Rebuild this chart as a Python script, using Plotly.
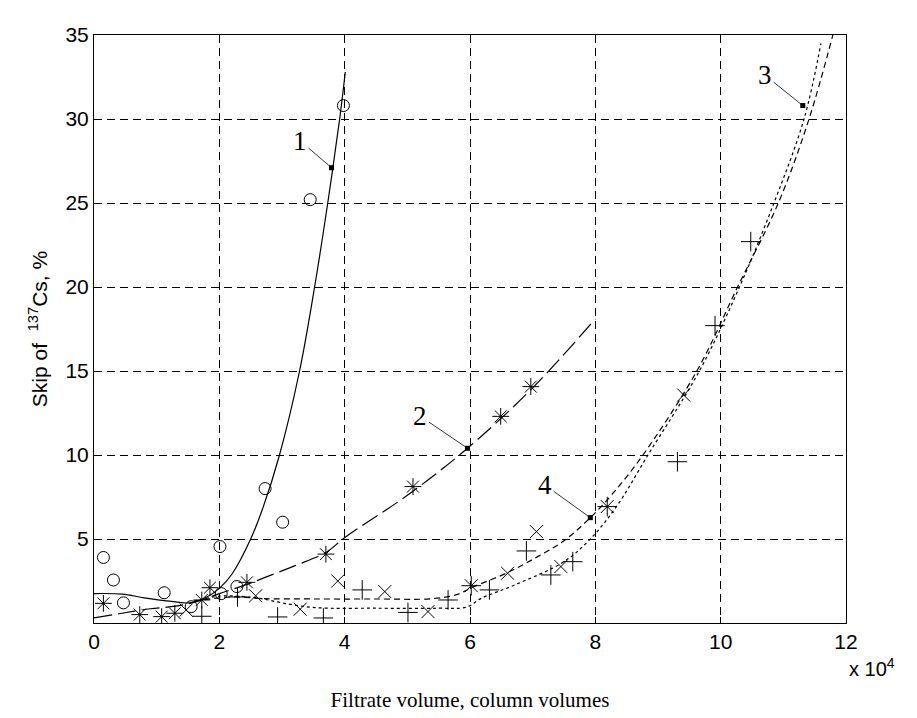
import plotly.graph_objects as go

# ---- measured points (x in 10^4 column volumes, y in %) ----
s1_x = [0.15, 0.31, 0.47, 1.12, 1.55, 2.01, 2.03, 2.28, 2.73, 3.01, 3.45, 3.98]
s1_y = [3.9, 2.56, 1.2, 1.8, 0.97, 4.55, 1.75, 2.17, 8.0, 6.0, 25.2, 30.8]

s2_x = [0.15, 0.73, 1.08, 1.29, 1.72, 1.85, 2.44, 3.7, 5.09, 6.49, 6.97]
s2_y = [1.17, 0.5, 0.38, 0.58, 1.37, 2.1, 2.42, 4.1, 8.12, 12.3, 14.07]

s3_x = [1.72, 2.29, 2.93, 3.66, 4.28, 5.01, 5.65, 6.02, 6.31, 6.9, 7.29, 7.64, 8.19, 9.31, 9.91, 10.48]
s3_y = [0.4, 1.55, 0.36, 0.3, 1.97, 0.63, 1.37, 2.22, 1.97, 4.29, 2.86, 3.65, 6.93, 9.6, 17.7, 22.7]

s4_x = [1.47, 2.58, 3.29, 3.89, 4.64, 5.33, 6.02, 6.6, 7.06, 7.45, 8.19, 9.41]
s4_y = [0.77, 1.62, 0.82, 2.5, 1.87, 0.68, 2.22, 2.96, 5.44, 3.36, 6.93, 13.57]

# ---- fitted curves ----
c1_x = [0.0, 0.45, 0.8, 1.2, 1.53, 1.8, 2.0, 2.2, 2.5, 2.7, 2.96, 3.28, 3.52, 3.73, 3.92, 4.01]
c1_y = [1.75, 1.72, 1.5, 1.3, 1.2, 1.55, 2.06, 2.9, 5.0, 6.9, 10.0, 15.0, 20.0, 25.0, 30.0, 32.8]

c2_x = [0.0, 0.4, 0.9, 1.3, 1.64, 2.0, 2.44, 2.72, 3.2, 3.7, 4.02, 5.0, 5.96, 7.0, 8.0]
c2_y = [0.3, 0.55, 0.85, 1.0, 1.27, 1.75, 2.3, 2.7, 3.4, 4.2, 5.14, 7.6, 10.4, 14.0, 18.1]

c3_x = [1.6, 2.0, 2.3, 2.64, 3.0, 3.52, 4.5, 5.5, 5.95, 6.18, 6.71, 7.5, 7.93, 8.35, 8.84, 9.66, 10.3, 10.85, 11.33, 11.6]
c3_y = [1.3, 1.6, 1.6, 1.47, 1.2, 0.92, 0.88, 0.88, 0.95, 1.47, 2.26, 3.65, 5.04, 7.0, 10.0, 15.0, 20.0, 25.0, 30.0, 34.5]

c4_x = [1.6, 2.2, 2.72, 3.5, 4.5, 5.4, 5.8, 6.02, 6.6, 7.08, 7.5, 7.92, 8.3, 8.76, 9.62, 10.27, 10.92, 11.41, 11.79]
c4_y = [1.3, 1.55, 1.45, 1.43, 1.43, 1.45, 1.7, 2.1, 3.0, 3.95, 4.9, 6.27, 7.8, 10.0, 15.0, 20.0, 25.0, 30.0, 35.0]

# curve labels: text, point on curve, text position
lab_text = ["1", "2", "3", "4"]
lab_px = [3.79, 5.96, 11.31, 7.92]
lab_py = [27.1, 10.4, 30.8, 6.27]
lab_tx = [3.29, 5.21, 10.71, 7.2]
lab_ty = [28.7, 12.3, 32.6, 8.2]

x_ticks = [0, 2, 4, 6, 8, 10, 12]
y_ticks = [5, 10, 15, 20, 25, 30, 35]

fig = go.Figure()

line_kw = dict(color="black", width=1.2)
fig.add_trace(go.Scatter(x=c1_x, y=c1_y, mode="lines", line=dict(**line_kw, dash="solid"), line_shape="spline"))
fig.add_trace(go.Scatter(x=c2_x, y=c2_y, mode="lines", line=dict(**line_kw, dash="18px,6px"), line_shape="spline"))
fig.add_trace(go.Scatter(x=c3_x, y=c3_y, mode="lines", line=dict(**line_kw, dash="3px,3px"), line_shape="spline"))
fig.add_trace(go.Scatter(x=c4_x, y=c4_y, mode="lines", line=dict(**line_kw, dash="6px,4px"), line_shape="spline"))

mk_line = dict(color="black", width=1)
fig.add_trace(go.Scatter(x=s1_x, y=s1_y, mode="markers",
                         marker=dict(symbol="circle-open", size=12, color="black", line=mk_line)))
fig.add_trace(go.Scatter(x=s2_x, y=s2_y, mode="markers",
                         marker=dict(symbol="asterisk-open", size=14, color="black", line=mk_line)))
fig.add_trace(go.Scatter(x=s3_x, y=s3_y, mode="markers",
                         marker=dict(symbol="cross-thin-open", size=14, color="black", line=mk_line)))
fig.add_trace(go.Scatter(x=s4_x, y=s4_y, mode="markers",
                         marker=dict(symbol="x-thin-open", size=13, color="black", line=mk_line)))

fig.add_trace(go.Scatter(x=lab_px, y=lab_py, mode="markers",
                         marker=dict(symbol="square", size=5, color="black")))

for t, px, py, tx, ty in zip(lab_text, lab_px, lab_py, lab_tx, lab_ty):
    fig.add_annotation(x=px, y=py, ax=tx, ay=ty, xref="x", yref="y", axref="x", ayref="y",
                       text=t, showarrow=True, arrowhead=0, arrowwidth=0.8, arrowcolor="black",
                       font=dict(family="Liberation Serif", size=27, color="black"))

fig.add_annotation(x=1.0, y=0, xref="paper", yref="paper", xanchor="left", yanchor="top",
                   xshift=1, yshift=-30, text="x 10<sup>4</sup>", showarrow=False,
                   font=dict(family="Liberation Sans", size=20, color="black"))

axis_common = dict(showline=True, mirror=True, linecolor="black", linewidth=1,
                   ticks="inside", ticklen=6, tickcolor="black",
                   showgrid=True, gridcolor="black", gridwidth=1, griddash="8px,5px",
                   zeroline=False,
                   tickfont=dict(family="Liberation Sans", size=21, color="black"))

fig.update_xaxes(range=[0, 12], tickvals=x_ticks, ticktext=[str(v) for v in x_ticks],
                 title=dict(text="Filtrate volume, column volumes", standoff=40,
                            font=dict(family="Liberation Serif", size=21, color="black")),
                 **axis_common)
fig.update_yaxes(range=[0, 35], tickvals=y_ticks, ticktext=[str(v) for v in y_ticks],
                 title=dict(text="Skip of  <sup>137</sup>Cs, %", standoff=12,
                            font=dict(family="Liberation Sans", size=21, color="black")),
                 **axis_common)

fig.update_layout(width=917, height=718, showlegend=False,
                  margin=dict(l=86, r=79, t=27, b=103),
                  plot_bgcolor="white", paper_bgcolor="white")

fig.write_html("out.html")
